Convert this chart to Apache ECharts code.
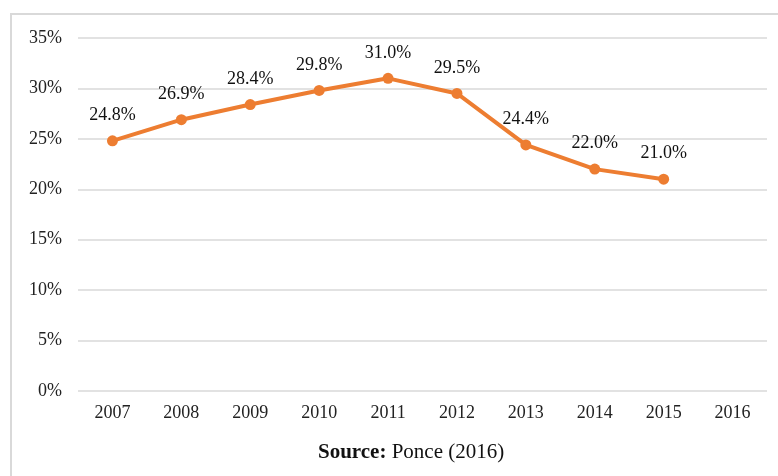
<!DOCTYPE html>
<html>
<head>
<meta charset="utf-8">
<script src="https://cdn.jsdelivr.net/npm/echarts@6/dist/echarts.min.js"></script>
<style>
  html, body { margin: 0; padding: 0; background: #fff; }
  #chart { width: 778px; height: 476px; }
</style>
</head>
<body>
<div id="chart"></div>
<script>
const years = ['2007', '2008', '2009', '2010', '2011', '2012', '2013', '2014', '2015', '2016'];
const rates = [24.8, 26.9, 28.4, 29.8, 31.0, 29.5, 24.4, 22.0, 21.0, null];

let myChart = echarts.init(document.querySelector('#chart'), null, {
    width: 778,
    height: 476,
    renderer: 'canvas'
});

const font = 'Liberation Serif, Times New Roman, serif';

let option = {
  backgroundColor: '#fff',
  animation: false,
  grid: {
    left: 78,
    right: 11,
    top: 38,
    bottom: 85
  },
  xAxis: {
    type: 'category',
    data: years,
    boundaryGap: true,
    axisLine: { show: false },
    axisTick: { show: false },
    axisLabel: {
      color: '#222',
      fontFamily: font,
      fontSize: 18,
      margin: 13
    }
  },
  yAxis: {
    type: 'value',
    min: 0,
    max: 35,
    interval: 5,
    axisLine: { show: false },
    axisTick: { show: false },
    axisLabel: {
      color: '#222',
      fontFamily: font,
      fontSize: 18,
      margin: 16,
      formatter: '{value}%'
    },
    splitLine: {
      lineStyle: { color: '#d9d9d9', width: 1.5 }
    }
  },
  graphic: [
    {
      type: 'rect',
      shape: { x: 11, y: 14, width: 800, height: 500 },
      style: { fill: 'none', stroke: '#d9d9d9', lineWidth: 2 },
      silent: true
    },
    {
      type: 'text',
      left: 318,
      top: 442,
      style: {
        text: '{b|Source:} Ponce (2016)',
        fontFamily: font,
        fontSize: 21,
        fill: '#111',
        rich: {
          b: { fontFamily: font, fontSize: 21, fontWeight: 'bold', fill: '#111' }
        }
      }
    }
  ],
  series: [
    {
      name: 'rate',
      type: 'line',
      data: rates,
      symbol: 'circle',
      symbolSize: 11,
      lineStyle: { color: '#ED7D31', width: 4 },
      itemStyle: { color: '#ED7D31' },
      label: {
        show: true,
        position: 'top',
        distance: 11,
        color: '#111',
        fontFamily: font,
        fontSize: 18,
        formatter: p => p.value.toFixed(1) + '%'
      }
    }
  ]
};

myChart.setOption(option);
</script>
</body>
</html>
